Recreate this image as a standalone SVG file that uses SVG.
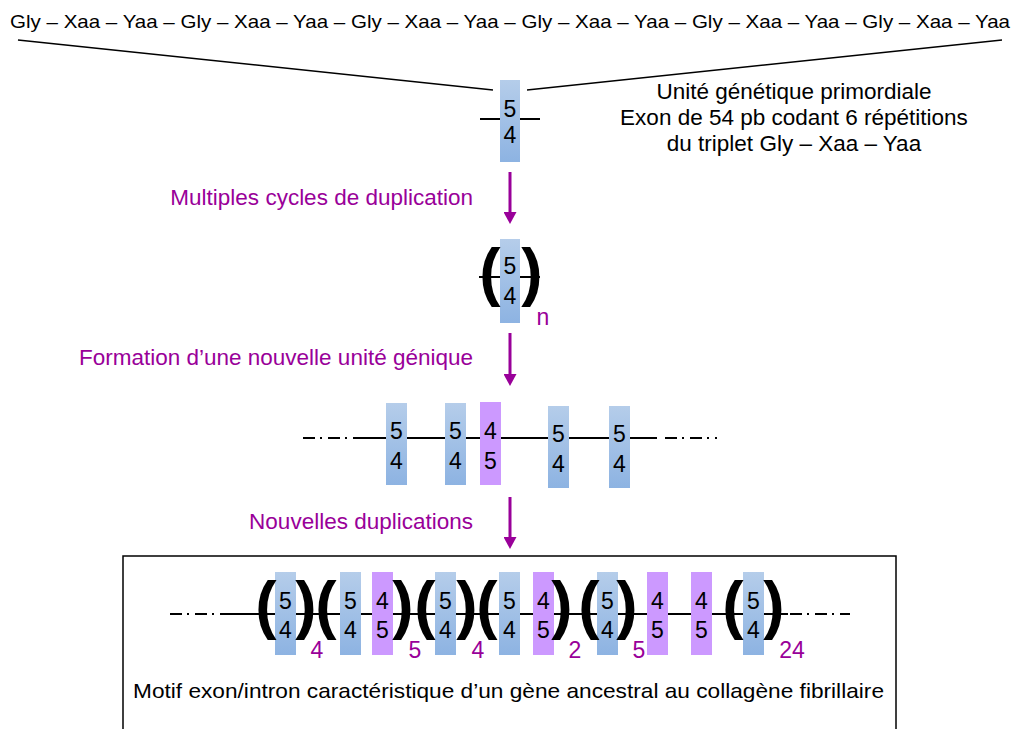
<svg xmlns="http://www.w3.org/2000/svg" width="1013" height="729" viewBox="0 0 1013 729">
<defs>
<linearGradient id="gb" x1="0" y1="0" x2="0" y2="1">
<stop offset="0" stop-color="#b5cdea"/>
<stop offset="1" stop-color="#8db3e2"/>
</linearGradient>
<marker id="ah" markerWidth="12" markerHeight="13" refX="0" refY="6.5" orient="auto" markerUnits="userSpaceOnUse" viewBox="0 0 12 13">
<path d="M0,0 L12,6.5 L0,13 Z" fill="#990099"/>
</marker>
<style>
text{font-family:"Liberation Sans",Arial,sans-serif;}
.t{font-size:19px;fill:#000;}
.r{font-size:22.5px;fill:#000;text-anchor:middle;}
.p{font-size:22.5px;fill:#990099;text-anchor:end;}
.d{font-size:23px;fill:#000;text-anchor:middle;}
.s{font-size:23px;fill:#990099;text-anchor:middle;}
.par{font-size:64px;font-weight:bold;fill:#000;text-anchor:middle;}
.eb{fill:url(#gb);}
.ep{fill:#cc99ff;}
.ln{stroke:#000;stroke-width:2;fill:none;}
.dd{stroke:#000;stroke-width:2;fill:none;stroke-dasharray:12 5 2 6;}
.ar{stroke:#990099;stroke-width:3;fill:none;}
</style>
</defs>

<g id="sequence">
<text x="10" y="28" class="t" textLength="1000" lengthAdjust="spacingAndGlyphs">Gly – Xaa – Yaa – Gly – Xaa – Yaa – Gly – Xaa – Yaa – Gly – Xaa – Yaa – Gly – Xaa – Yaa – Gly – Xaa – Yaa</text>
</g>

<g id="connectors">
<line x1="18" y1="40" x2="493" y2="90" stroke="#000" stroke-width="1.5"/>
<line x1="527" y1="90" x2="1002" y2="40" stroke="#000" stroke-width="1.5"/>
<line x1="510" y1="172" x2="510" y2="212" class="ar" marker-end="url(#ah)"/>
<line x1="510" y1="333" x2="510" y2="374" class="ar" marker-end="url(#ah)"/>
<line x1="510" y1="497" x2="510" y2="537" class="ar" marker-end="url(#ah)"/>
</g>

<g id="unit-primordial">
<line x1="480" y1="119" x2="540" y2="119" class="ln"/>
<rect x="500" y="80" width="20" height="82" class="eb"/>
<text x="510" y="117" class="d">5</text>
<text x="510" y="143" class="d">4</text>
</g>

<g id="unit-label">
<text x="794" y="99" class="r">Unité génétique primordiale</text>
<text x="794" y="125" class="r">Exon de 54 pb codant 6 répétitions</text>
<text x="794" y="151" class="r">du triplet Gly – Xaa – Yaa</text>
</g>

<g id="label-1"><text x="473" y="205" class="p">Multiples cycles de duplication</text></g>

<g id="unit-n">
<line x1="479" y1="277" x2="540" y2="277" class="ln"/>
<rect x="500" y="239" width="20" height="84" class="eb"/>
<text x="510" y="274" class="d">5</text>
<text x="510" y="304" class="d">4</text>
<text x="490" y="294" class="par">(</text>
<text x="532" y="294" class="par">)</text>
<text x="543" y="325" class="s">n</text>
</g>

<g id="label-2"><text x="473" y="365" class="p">Formation d’une nouvelle unité génique</text></g>

<g id="gene-unit">
<line x1="303" y1="438" x2="355" y2="438" class="dd"/>
<line x1="355" y1="438" x2="657" y2="438" class="ln"/>
<line x1="665" y1="438" x2="717" y2="438" class="dd"/>
<rect x="386" y="403" width="21" height="82" class="eb"/>
<text x="396.5" y="439" class="d">5</text><text x="396.5" y="469" class="d">4</text>
<rect x="445" y="403" width="21" height="82" class="eb"/>
<text x="455.5" y="439" class="d">5</text><text x="455.5" y="469" class="d">4</text>
<rect x="480" y="402" width="21" height="83" class="ep"/>
<text x="490.5" y="439" class="d">4</text><text x="490.5" y="469" class="d">5</text>
<rect x="548" y="406" width="21" height="82" class="eb"/>
<text x="558.5" y="442" class="d">5</text><text x="558.5" y="472" class="d">4</text>
<rect x="609" y="406" width="21" height="82" class="eb"/>
<text x="619.5" y="442" class="d">5</text><text x="619.5" y="472" class="d">4</text>
</g>

<g id="label-3"><text x="473" y="529" class="p">Nouvelles duplications</text></g>

<g id="ancestral-box">
<rect x="123" y="556" width="773" height="190" fill="none" stroke="#000" stroke-width="1.5"/>
<line x1="170" y1="614" x2="228" y2="614" class="dd"/>
<line x1="228" y1="614" x2="788" y2="614" class="ln"/>
<line x1="790" y1="614" x2="850" y2="614" class="dd"/>

<rect x="275" y="572" width="21" height="83" class="eb"/>
<text x="285.5" y="609" class="d">5</text><text x="285.5" y="638" class="d">4</text>
<rect x="340" y="572" width="21" height="83" class="eb"/>
<text x="350.5" y="609" class="d">5</text><text x="350.5" y="638" class="d">4</text>
<rect x="372" y="572" width="21" height="83" class="ep"/>
<text x="382.5" y="609" class="d">4</text><text x="382.5" y="638" class="d">5</text>
<rect x="435" y="572" width="21" height="83" class="eb"/>
<text x="445.5" y="609" class="d">5</text><text x="445.5" y="638" class="d">4</text>
<rect x="499" y="572" width="21" height="83" class="eb"/>
<text x="509.5" y="609" class="d">5</text><text x="509.5" y="638" class="d">4</text>
<rect x="533" y="572" width="21" height="83" class="ep"/>
<text x="543.5" y="609" class="d">4</text><text x="543.5" y="638" class="d">5</text>
<rect x="597" y="572" width="21" height="83" class="eb"/>
<text x="607.5" y="609" class="d">5</text><text x="607.5" y="638" class="d">4</text>
<rect x="647" y="572" width="21" height="83" class="ep"/>
<text x="657.5" y="609" class="d">4</text><text x="657.5" y="638" class="d">5</text>
<rect x="691" y="572" width="21" height="83" class="ep"/>
<text x="701.5" y="609" class="d">4</text><text x="701.5" y="638" class="d">5</text>
<rect x="743" y="572" width="21" height="83" class="eb"/>
<text x="753.5" y="609" class="d">5</text><text x="753.5" y="638" class="d">4</text>

<text x="266" y="627" class="par">(</text><text x="306" y="627" class="par">)</text>
<text x="317" y="658" class="s">4</text>
<text x="326" y="627" class="par">(</text><text x="403" y="627" class="par">)</text>
<text x="415" y="658" class="s">5</text>
<text x="425" y="627" class="par">(</text><text x="467" y="627" class="par">)</text>
<text x="478" y="658" class="s">4</text>
<text x="487" y="627" class="par">(</text><text x="562" y="627" class="par">)</text>
<text x="575" y="658" class="s">2</text>
<text x="589" y="627" class="par">(</text><text x="627" y="627" class="par">)</text>
<text x="639" y="658" class="s">5</text>
<text x="733" y="627" class="par">(</text><text x="774" y="627" class="par">)</text>
<text x="792" y="658" class="s">24</text>

<text x="133" y="698" font-size="21" fill="#000" textLength="751" lengthAdjust="spacingAndGlyphs">Motif exon/intron caractéristique d’un gène ancestral au collagène fibrillaire</text>
</g>
</svg>
